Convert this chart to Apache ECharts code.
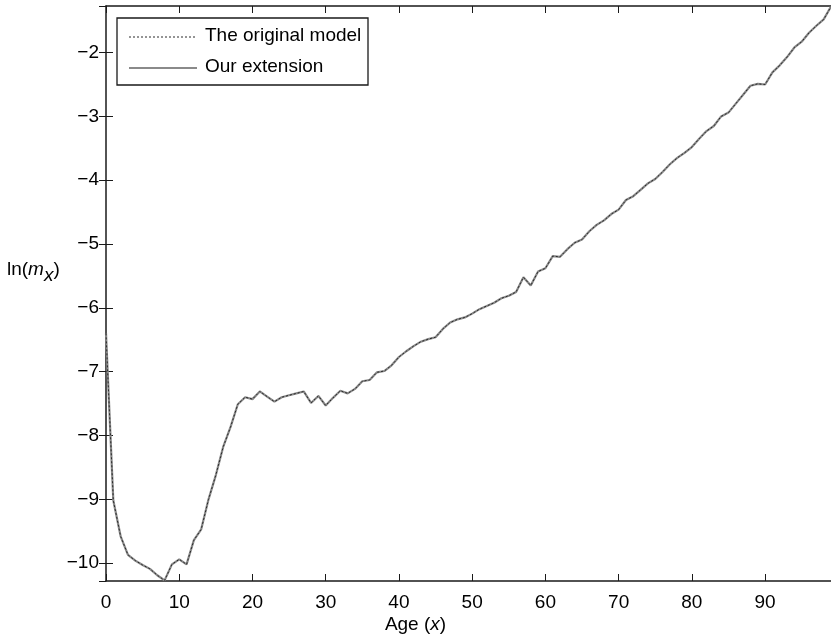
<!DOCTYPE html>
<html>
<head>
<meta charset="utf-8">
<script src="https://cdn.jsdelivr.net/npm/echarts@6/dist/echarts.min.js"></script>
<style>
html,body{margin:0;padding:0;background:#fff;}
#chart{width:831px;height:642px;}
</style>
</head>
<body>
<div id="chart"></div>
<script>
// ---- data ----
const ages = [];
for (let a = 0; a <= 99; a++) ages.push(a);

const originalModel = [
  -6.40, -9.02, -9.58, -9.87, -9.96, -10.03, -10.09, -10.19, -10.27, -10.02,
  -9.94, -10.02, -9.64, -9.47, -9.00, -8.62, -8.18, -7.87, -7.51, -7.40,
  -7.43, -7.31, -7.39, -7.47, -7.40, -7.37, -7.34, -7.31, -7.49, -7.38,
  -7.53, -7.41, -7.30, -7.34, -7.27, -7.15, -7.13, -7.01, -6.99, -6.90,
  -6.77, -6.68, -6.60, -6.53, -6.49, -6.46, -6.33, -6.23, -6.18, -6.15,
  -6.09, -6.02, -5.97, -5.92, -5.85, -5.81, -5.75, -5.52, -5.65, -5.43,
  -5.38, -5.19, -5.20, -5.08, -4.98, -4.93, -4.80, -4.70, -4.63, -4.53,
  -4.46, -4.31, -4.25, -4.15, -4.05, -3.98, -3.87, -3.75, -3.65, -3.57,
  -3.48, -3.35, -3.23, -3.15, -3.00, -2.94, -2.80, -2.66, -2.52, -2.49,
  -2.50, -2.31, -2.20, -2.07, -1.92, -1.83, -1.69, -1.58, -1.48, -1.28
];
const ourExtension = [
  -6.40, -9.02, -9.58, -9.87, -9.96, -10.03, -10.09, -10.19, -10.27, -10.02,
  -9.94, -10.02, -9.64, -9.47, -9.00, -8.62, -8.18, -7.87, -7.51, -7.40,
  -7.43, -7.31, -7.39, -7.47, -7.40, -7.37, -7.34, -7.31, -7.49, -7.38,
  -7.53, -7.41, -7.30, -7.34, -7.27, -7.15, -7.13, -7.01, -6.99, -6.90,
  -6.77, -6.68, -6.60, -6.53, -6.49, -6.46, -6.33, -6.23, -6.18, -6.15,
  -6.09, -6.02, -5.97, -5.92, -5.85, -5.81, -5.75, -5.52, -5.65, -5.43,
  -5.38, -5.19, -5.20, -5.08, -4.98, -4.93, -4.80, -4.70, -4.63, -4.53,
  -4.46, -4.31, -4.25, -4.15, -4.05, -3.98, -3.87, -3.75, -3.65, -3.57,
  -3.48, -3.35, -3.23, -3.15, -3.00, -2.94, -2.80, -2.66, -2.52, -2.49,
  -2.50, -2.31, -2.20, -2.07, -1.92, -1.83, -1.69, -1.58, -1.48, -1.28
];
const seriesNames = ['The original model', 'Our extension'];
const xLimits = [0, 99];
const yLimits = [-10.28, -1.27];

// ---- chart ----
const FONT = "'Liberation Sans', Arial, Helvetica, sans-serif";
const AX = '#1a1a1a';
const ORIG_COLOR = '#2a2a2a';
const EXT_COLOR = '#8a8a8a';
const chart = echarts.init(document.getElementById('chart'), null, {renderer: 'canvas'});
const pairs = arr => ages.map((a, i) => [a, arr[i]]);
const fmtY = v => (v < 0 ? '\u2212' : '') + Math.abs(v);

const axisCommon = {
  axisLine: {show: true, onZero: false, lineStyle: {color: AX, width: 1.5}},
  axisTick: {show: true, inside: true, length: 7, lineStyle: {color: AX, width: 1}},
  splitLine: {show: false}
};

chart.setOption({
  animation: false,
  backgroundColor: '#fff',
  grid: {left: 106, right: -3, top: 6, bottom: 61, containLabel: false},
  xAxis: [
    Object.assign({
      type: 'value', min: xLimits[0], max: xLimits[1], interval: 10, position: 'bottom',
      axisLabel: {show: true, fontFamily: FONT, fontSize: 19, color: '#000', margin: 12, showMaxLabel: false}
    }, axisCommon),
    Object.assign({
      type: 'value', min: xLimits[0], max: xLimits[1], interval: 10, position: 'top',
      axisLabel: {show: false}
    }, axisCommon)
  ],
  yAxis: [
    Object.assign({
      type: 'value', min: yLimits[0], max: yLimits[1], splitNumber: 9, position: 'left',
      axisLabel: {show: true, fontFamily: FONT, fontSize: 19, color: '#000', margin: 7,
        showMinLabel: false, showMaxLabel: false, formatter: fmtY}
    }, axisCommon),
    {
      type: 'value', min: yLimits[0], max: yLimits[1], splitNumber: 9, position: 'right',
      axisLabel: {show: false},
      axisLine: {show: false},
      axisTick: {show: true, inside: true, length: 7, lineStyle: {color: AX, width: 1}},
      splitLine: {show: false}
    }
  ],
  series: [
    {
      name: seriesNames[1], type: 'line', data: pairs(ourExtension),
      showSymbol: false, symbol: 'none', z: 2,
      lineStyle: {color: EXT_COLOR, width: 2.2, type: 'solid'}
    },
    {
      name: seriesNames[0], type: 'line', data: pairs(originalModel),
      showSymbol: false, symbol: 'none', z: 3,
      lineStyle: {color: ORIG_COLOR, width: 1, type: [2, 2]}
    }
  ],
  graphic: [
    // legend box
    {
      type: 'rect', z: 10,
      shape: {x: 117, y: 18, width: 251, height: 67},
      style: {fill: '#fff', stroke: AX, lineWidth: 1.3}
    },
    {
      type: 'line', z: 11,
      shape: {x1: 129, y1: 37, x2: 197, y2: 37},
      style: {stroke: ORIG_COLOR, lineWidth: 1, lineDash: [2, 2]}
    },
    {
      type: 'text', z: 11, left: 205, top: 26,
      style: {text: seriesNames[0], fontFamily: FONT, fontSize: 19, fill: '#000'}
    },
    {
      type: 'line', z: 11,
      shape: {x1: 129, y1: 68, x2: 197, y2: 68},
      style: {stroke: EXT_COLOR, lineWidth: 2.2}
    },
    {
      type: 'text', z: 11, left: 205, top: 57,
      style: {text: seriesNames[1], fontFamily: FONT, fontSize: 19, fill: '#000'}
    },
    // axis titles
    {
      type: 'text', left: 7, top: 260,
      style: {
        text: '{n|ln(}{i|m}{s|x}{n|)}',
        rich: {
          n: {fontFamily: FONT, fontSize: 19, fill: '#000'},
          i: {fontFamily: FONT, fontSize: 19, fontStyle: 'italic', fill: '#000'},
          s: {fontFamily: FONT, fontSize: 19, fontStyle: 'italic', fill: '#000', padding: [12, 0, 0, 0]}
        }
      }
    },
    {
      type: 'text', left: 'center', top: 615,
      style: {
        text: '{n|Age (}{i|x}{n|)}',
        rich: {
          n: {fontFamily: FONT, fontSize: 19, fill: '#000'},
          i: {fontFamily: FONT, fontSize: 19, fontStyle: 'italic', fill: '#000'}
        }
      }
    }
  ]
});
</script>
</body>
</html>
